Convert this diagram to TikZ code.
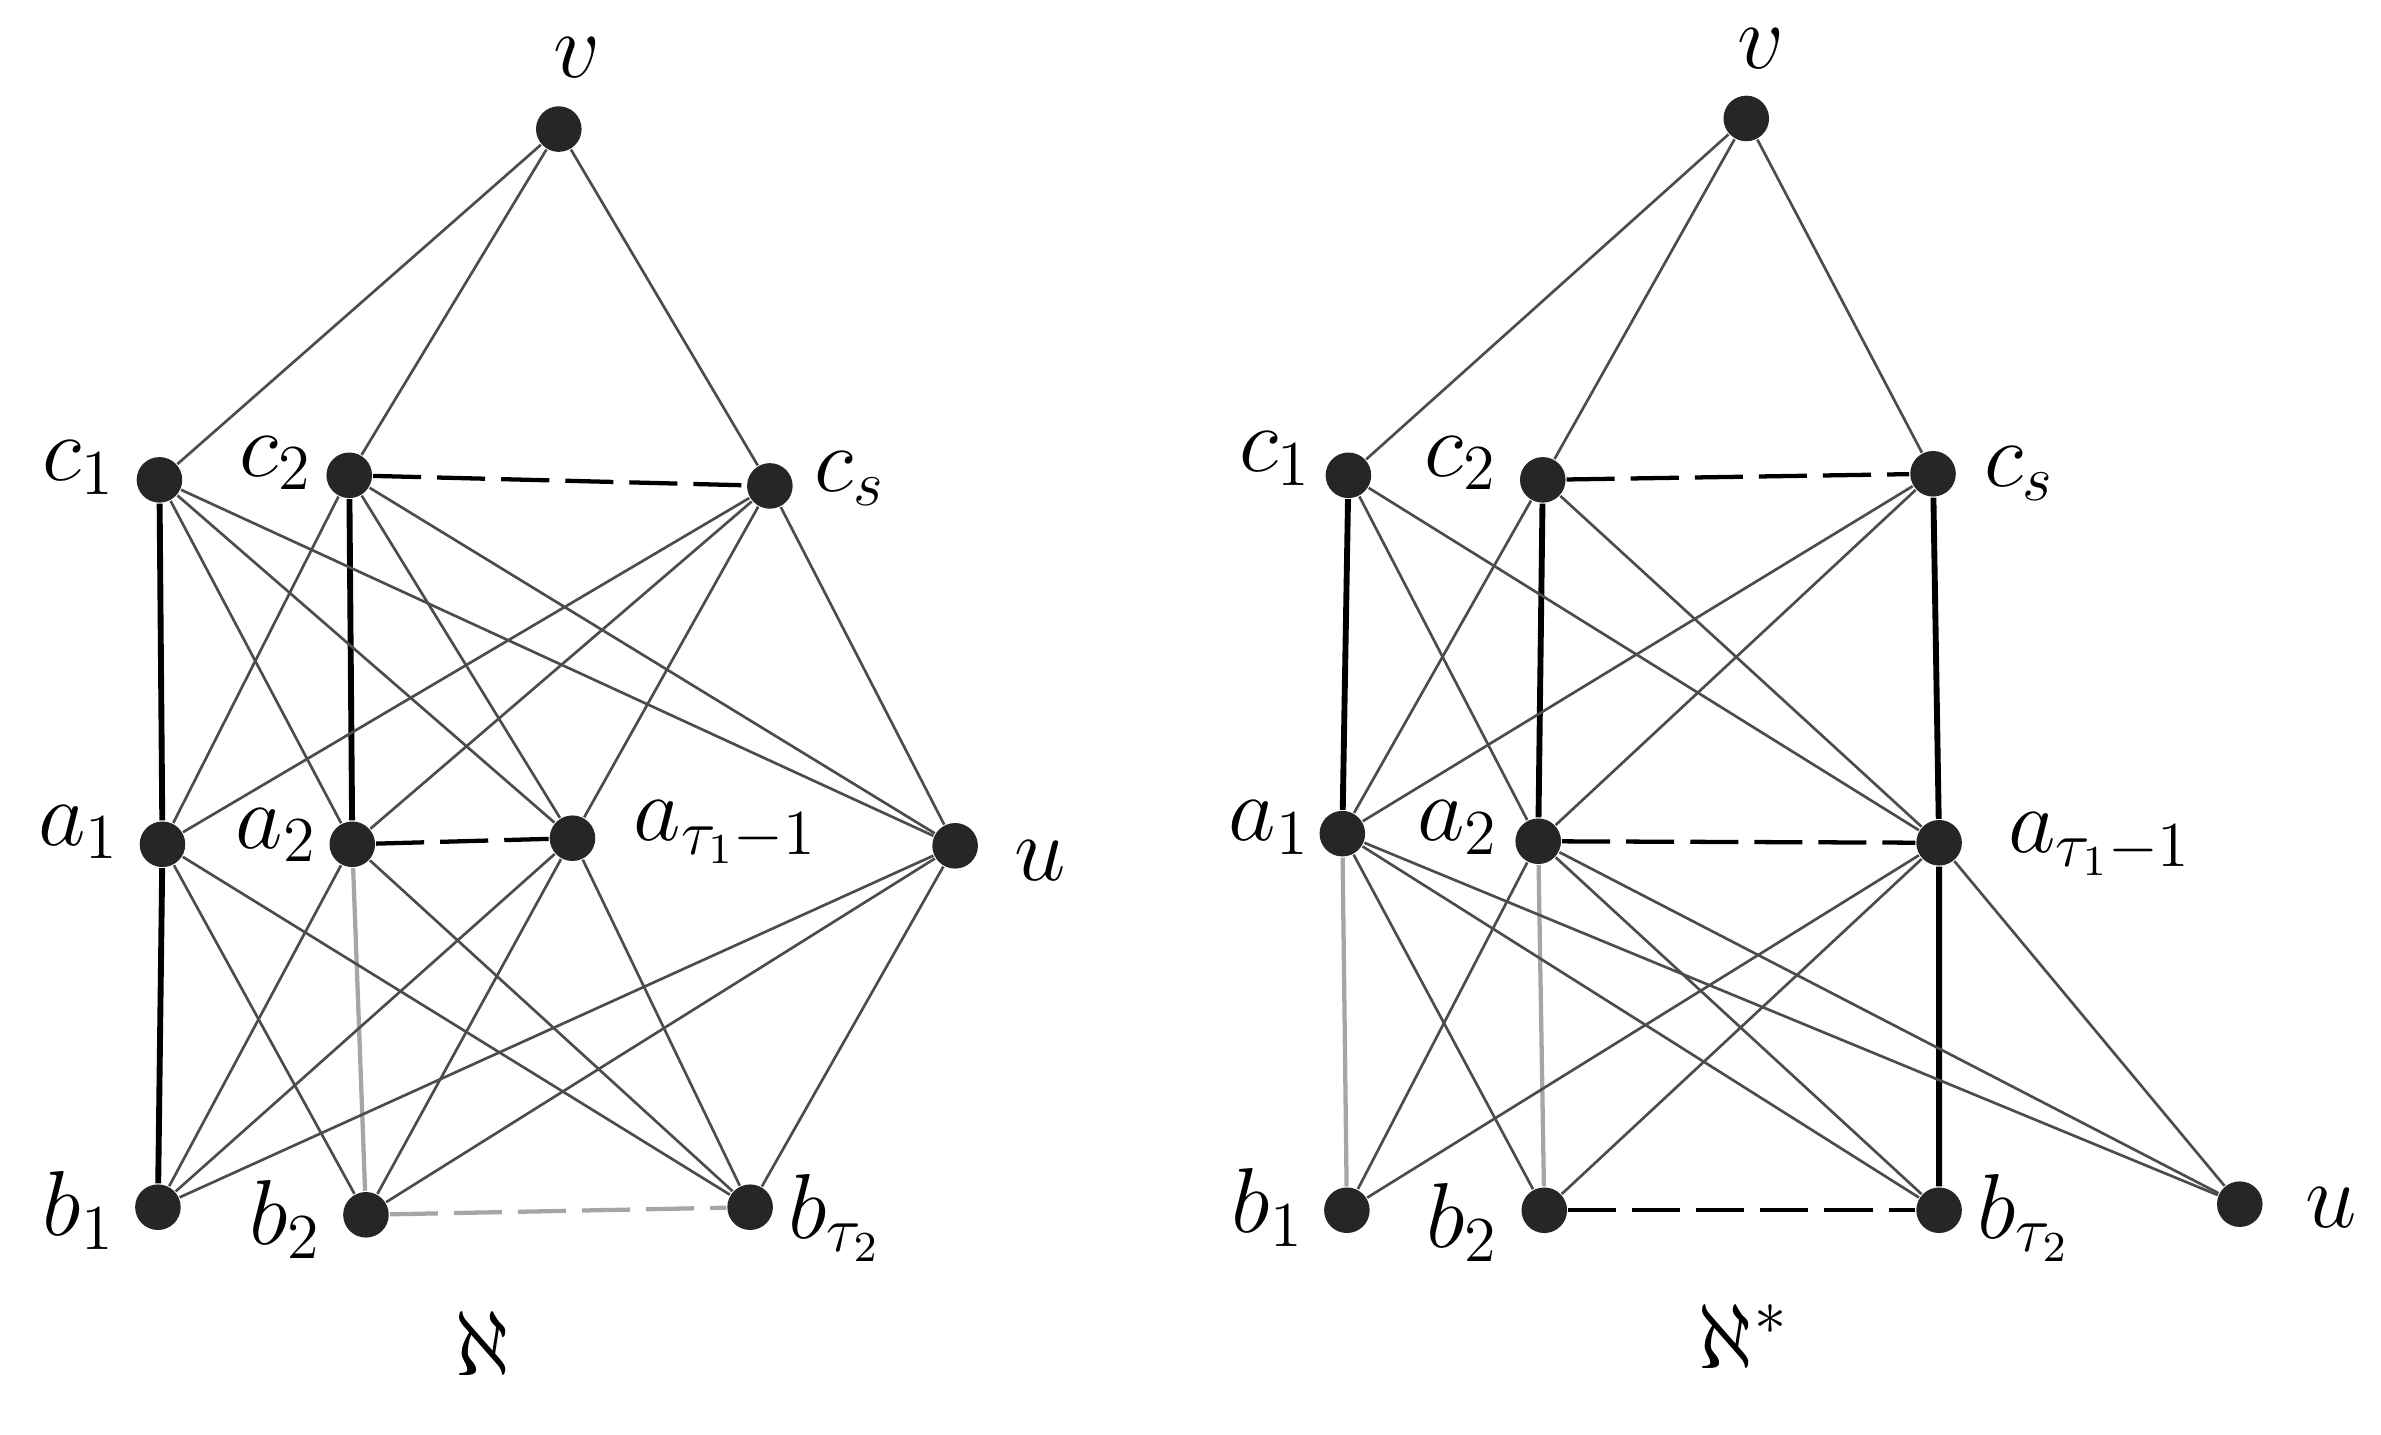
\documentclass[tikz,border=0pt]{standalone}
\begin{document}
\begin{tikzpicture}[x=0.01cm,y=-0.01cm,
 vtx/.style={circle,fill=black!85,inner sep=0pt,minimum size=0.3cm},
 e/.style={black!70,line width=0.5pt},
 thick1/.style={black,line width=1.1pt},
 lite/.style={black!35,line width=0.8pt},
 dsh/.style={black,dashed,dash pattern=on 9pt off 3pt,line width=0.8pt},
 lab/.style={font=\fontsize{17}{20}\selectfont}]
\useasboundingbox (0,0) rectangle (1568,945);
% left graph
\node[vtx] (v) at (368,85) {}; \node[lab] at (380,38) {$v$};
\node[vtx] (c1) at (105,316) {}; \node[lab] at (52,308) {$c_1$};
\node[vtx] (c2) at (230,313) {}; \node[lab] at (182,305) {$c_2$};
\node[vtx] (cs) at (507,320) {}; \node[lab] at (560,315) {$c_s$};
\node[vtx] (a1) at (107,556) {}; \node[lab] at (52,548) {$a_1$};
\node[vtx] (a2) at (232,556) {}; \node[lab] at (182,550) {$a_2$};
\node[vtx] (at) at (377,552) {}; \node[lab,anchor=west] at (405,548) {$a_{\tau_1-1}$};
\node[vtx] (u) at (629,557) {}; \node[lab] at (685,567) {$u$};
\node[vtx] (b1) at (104,795) {}; \node[lab] at (52,797) {$b_1$};
\node[vtx] (b2) at (241,800) {}; \node[lab] at (188,803) {$b_2$};
\node[vtx] (bt) at (494,795) {}; \node[lab] at (550,802) {$b_{\tau_2}$};
\node[lab] at (318,885) {$\aleph$};
\foreach \x in {c1,c2,cs} \draw[e] (v)--(\x);
\draw[thick1] (c1)--(a1) (a1)--(b1) (c2)--(a2);
\draw[lite] (a2)--(b2);
\draw[dsh] (c2)--(cs); \draw[dsh] (a2)--(at);
\draw[lite,dashed,dash pattern=on 9pt off 3pt] (b2)--(bt);
\foreach \s/\t in {c1/a2,c1/at,c1/u,c2/a1,c2/at,c2/u,cs/a1,cs/a2,cs/at,cs/u,
 a1/b2,a1/bt,a2/b1,a2/bt,at/b1,at/b2,at/bt,u/b1,u/b2,u/bt}
 \draw[e] (\s)--(\t);
% right graph
\node[vtx] (V) at (1150,78) {}; \node[lab] at (1160,32) {$v$};
\node[vtx] (C1) at (888,313) {}; \node[lab] at (840,302) {$c_1$};
\node[vtx] (C2) at (1016,316) {}; \node[lab] at (962,305) {$c_2$};
\node[vtx] (CS) at (1273,312) {}; \node[lab] at (1330,312) {$c_s$};
\node[vtx] (A1) at (884,549) {}; \node[lab] at (836,545) {$a_1$};
\node[vtx] (A2) at (1013,554) {}; \node[lab] at (960,545) {$a_2$};
\node[vtx] (AT) at (1277,555) {}; \node[lab,anchor=west] at (1310,556) {$a_{\tau_1-1}$};
\node[vtx] (U) at (1475,793) {}; \node[lab] at (1535,795) {$u$};
\node[vtx] (B1) at (887,797) {}; \node[lab] at (835,795) {$b_1$};
\node[vtx] (B2) at (1017,797) {}; \node[lab] at (963,805) {$b_2$};
\node[vtx] (BT) at (1277,797) {}; \node[lab] at (1333,802) {$b_{\tau_2}$};
\node[lab] at (1148,880) {$\aleph^{*}$};
\foreach \x in {C1,C2,CS} \draw[e] (V)--(\x);
\draw[thick1] (C1)--(A1) (C2)--(A2) (CS)--(AT) (AT)--(BT);
\draw[lite] (A1)--(B1) (A2)--(B2);
\draw[dsh] (C2)--(CS); \draw[dsh] (A2)--(AT); \draw[dsh] (B2)--(BT);
\foreach \s/\t in {C1/A2,C1/AT,C2/A1,C2/AT,CS/A1,CS/A2,
 A1/B2,A1/BT,A1/U,A2/B1,A2/BT,A2/U,AT/B1,AT/B2,AT/U}
 \draw[e] (\s)--(\t);
\end{tikzpicture}
\end{document}
